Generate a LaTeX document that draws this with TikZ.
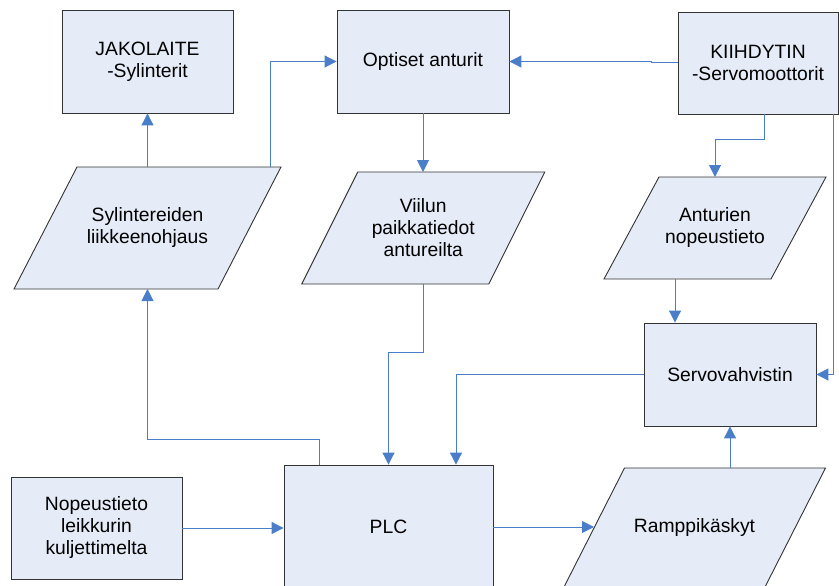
\documentclass[tikz,border=0pt]{standalone}
\usepackage{fontspec}
\setmainfont{Liberation Sans}
\usepackage{xcolor}
\usepackage{tikz}
\usetikzlibrary{calc,positioning,arrows.meta,backgrounds}

\definecolor{boxfill}{RGB}{230,236,247}
\definecolor{flowblue}{RGB}{74,126,200}

\begin{document}
\begin{tikzpicture}[
    x=1pt, y=-1pt,
    every node/.style={font=\fontsize{19.3}{22}\selectfont},
    blk/.style={rectangle, draw=black!80, line width=0.9pt, fill=boxfill,
                minimum width=172pt, minimum height=103pt,
                align=center, inner sep=0pt},
    io/.style={rectangle, inner sep=0pt, outer sep=0pt, align=center},
    iofill/.style={draw=black!80, line width=0.9pt, fill=boxfill},
    arr/.style={-{Triangle[length=12pt,width=12pt]}, flowblue, line width=1pt}
]
\useasboundingbox (0,0) rectangle (839,586);

\node[blk, minimum width=171pt]                  (jak)  at (147.5,61.5) {JAKOLAITE\\-Sylinterit};
\node[blk]                                       (opt)  at (423,61.5)   {Optiset anturit};
\node[blk, minimum width=160pt, minimum height=102pt] (kii) at (758,63) {KIIHDYTIN\\-Servomoottorit};
\node[io, minimum width=204pt, minimum height=122pt] (syl)  at (147.5,228)  {Sylintereiden\\liikkeenohjaus};
\node[io, minimum width=187pt, minimum height=112pt] (viil) at (423.25,228) {Viilun\\paikkatiedot\\antureilta};
\node[io, minimum width=167pt, minimum height=102pt] (ant)  at (715,228)    {Anturien\\nopeustieto};
\node[blk]                                       (serv) at (730,374.5)  {Servovahvistin};
\node[blk, minimum width=209pt, minimum height=124pt] (plc)  at (388.5,527)  {PLC};
\node[blk, minimum width=171pt, minimum height=102pt] (nop)  at (96.5,528)   {Nopeustieto\\leikkurin\\kuljettimelta};
\node[io, minimum width=201pt, minimum height=120pt] (ramp) at (694.5,528)  {Ramppikäskyt};

\begin{scope}[on background layer]
\foreach \n/\s in {syl/31.5, viil/28, ant/27.5, ramp/30.5}
  \draw[iofill] ($(\n.north west)+(\s,0)$) -- ($(\n.north east)+(\s,0)$)
     -- ($(\n.south east)+(-\s,0)$) -- ($(\n.south west)+(-\s,0)$) -- cycle;
\end{scope}

\draw[arr] (syl.north) -- (jak.south);
\draw[arr] ([xshift=122.5pt]syl.north) |- (opt.west);
\draw[arr] (kii.west) -- ++(-26,0) |- (opt.east);
\draw[arr] (opt.south) -- (opt.south |- viil.north);
\draw[arr] ([xshift=6pt]kii.south) -- ++(0,25) -| (ant.north);
\draw[arr] ([xshift=75pt]kii.south) |- (serv.east);
\draw[arr] ([xshift=-40pt]ant.south) -- ([xshift=-40pt]ant.south |- serv.north);
\draw[arr] (serv.west) -| ([xshift=67.5pt]plc.north);
\draw[arr] (viil.south) -- ++(0,68) -| (plc.north);
\draw[arr] ([xshift=-69.5pt]plc.north) -- ++(0,-25) -| (syl.south);
\draw[arr] (nop.east) -- (nop.east -| plc.west);
\draw[arr] (plc.east) -- (plc.east -| ramp.west);
\draw[arr] (ramp.north -| serv.south) -- (serv.south);
\end{tikzpicture}
\end{document}
